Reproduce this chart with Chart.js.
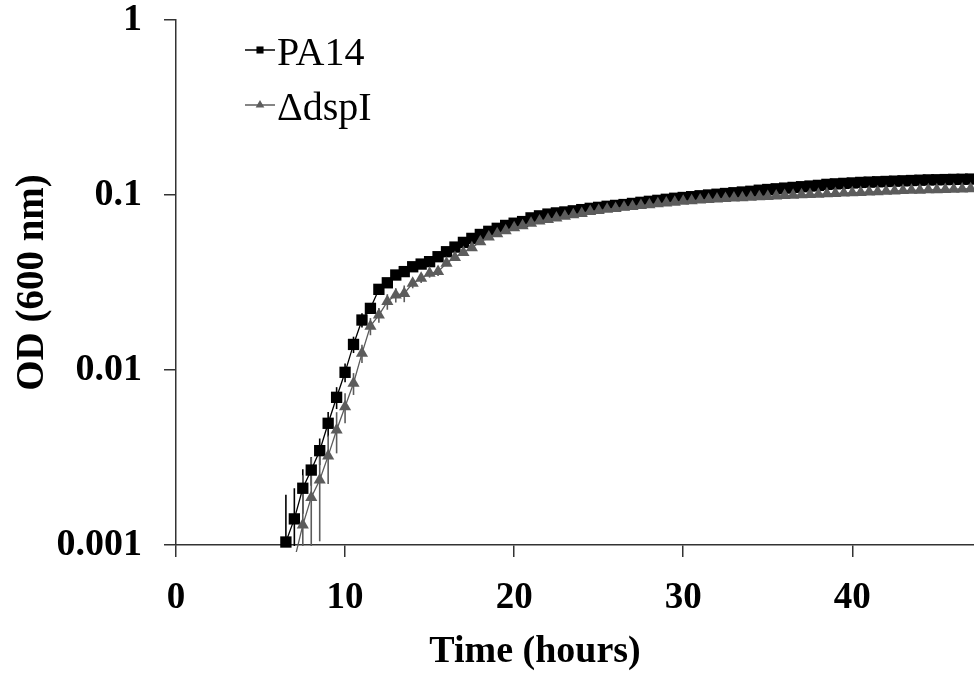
<!DOCTYPE html>
<html>
<head>
<meta charset="utf-8">
<script src="https://cdn.jsdelivr.net/npm/chart.js@4.4.1/dist/chart.umd.min.js"></script>
<style>
html, body { margin: 0; padding: 0; background: #fff; }
#wrap { width: 974px; height: 677px; }
</style>
</head>
<body>
<div id="wrap"><canvas id="growth" width="974" height="677"></canvas></div>
<script>
// =========================
//  DATA
// =========================
const timePA14 = [
    6.5, 7, 7.5, 8, 8.5, 9, 9.5, 10, 10.5, 11,
    11.5, 12, 12.5, 13, 13.5, 14, 14.5, 15, 15.5, 16,
    16.5, 17, 17.5, 18, 18.5, 19, 19.5, 20, 20.5, 21,
    21.5, 22, 22.5, 23, 23.5, 24, 24.5, 25, 25.5, 26,
    26.5, 27, 27.5, 28, 28.5, 29, 29.5, 30, 30.5, 31,
    31.5, 32, 32.5, 33, 33.5, 34, 34.5, 35, 35.5, 36,
    36.5, 37, 37.5, 38, 38.5, 39, 39.5, 40, 40.5, 41,
    41.5, 42, 42.5, 43, 43.5, 44, 44.5, 45, 45.5, 46,
    46.5, 47
];
const odPA14 = [
    0.00104, 0.00141, 0.00211, 0.00268, 0.00346, 0.00496, 0.00698, 0.0097, 0.0140, 0.0193,
    0.0225, 0.0289, 0.0315, 0.0349, 0.0365, 0.0389, 0.0403, 0.0416, 0.0444, 0.0474,
    0.0504, 0.0536, 0.0565, 0.0595, 0.0620, 0.0645, 0.0670, 0.0690, 0.0705, 0.0740,
    0.0760, 0.0778, 0.0790, 0.0800, 0.0812, 0.0825, 0.0839, 0.0850, 0.0862, 0.0872,
    0.0882, 0.0895, 0.0908, 0.0920, 0.0932, 0.0945, 0.0958, 0.0968, 0.0978, 0.0990,
    0.1000, 0.1010, 0.1020, 0.1030, 0.1040, 0.1050, 0.1065, 0.1075, 0.1085, 0.1095,
    0.1105, 0.1115, 0.1125, 0.1135, 0.1150, 0.1158, 0.1165, 0.1172, 0.1180, 0.1185,
    0.1190, 0.1195, 0.1200, 0.1205, 0.1210, 0.1215, 0.1220, 0.1222, 0.1225, 0.1228,
    0.1230, 0.1233
];
// SD bars, only the early points have visible ones (rest = 0)
const errPA14 = [0.0009, 0.0007, 0.0006, 0.0005, 0.0006, 0.0008, 0.0010, 0.0012, 0.0015, 0.0018, 0.0015, 0.0015];

const timeDspI = [
    7, 7.5, 8, 8.5, 9, 9.5, 10, 10.5, 11, 11.5,
    12, 12.5, 13, 13.5, 14, 14.5, 15, 15.5, 16, 16.5,
    17, 17.5, 18, 18.5, 19, 19.5, 20, 20.5, 21, 21.5,
    22, 22.5, 23, 23.5, 24, 24.5, 25, 25.5, 26, 26.5,
    27, 27.5, 28, 28.5, 29, 29.5, 30, 30.5, 31, 31.5,
    32, 32.5, 33, 33.5, 34, 34.5, 35, 35.5, 36, 36.5,
    37, 37.5, 38, 38.5, 39, 39.5, 40, 40.5, 41, 41.5,
    42, 42.5, 43, 43.5, 44, 44.5, 45, 45.5, 46, 46.5,
    47
];
const odDspI = [
    0.00082, 0.00130, 0.00187, 0.00235, 0.00323, 0.00454, 0.00617, 0.0084, 0.01245, 0.0178,
    0.0206, 0.0246, 0.0268, 0.0274, 0.0313, 0.0334, 0.0357, 0.0365, 0.0407, 0.0440,
    0.0470, 0.0500, 0.0540, 0.0575, 0.0600, 0.0625, 0.0650, 0.0668, 0.0690, 0.0710,
    0.0725, 0.0740, 0.0755, 0.0770, 0.0785, 0.0805, 0.0815, 0.0828, 0.0838, 0.0850,
    0.0860, 0.0870, 0.0880, 0.0890, 0.0900, 0.0910, 0.0920, 0.0928, 0.0935, 0.0942,
    0.0948, 0.0955, 0.0960, 0.0966, 0.0972, 0.0978, 0.0982, 0.0988, 0.0993, 0.0998,
    0.1002, 0.1006, 0.1010, 0.1015, 0.1020, 0.1025, 0.1030, 0.1035, 0.1040, 0.1045,
    0.1050, 0.1055, 0.1060, 0.1063, 0.1066, 0.1070, 0.1073, 0.1076, 0.1080, 0.1083,
    0.1086
];
const errDspI = [0, 0.0012, 0.0013, 0.0013, 0.0010, 0.0012, 0.0012, 0.0012, 0.0015, 0.0020,
    0.0020, 0.0025, 0.0025, 0.0030, 0.0020, 0.0020, 0.0020, 0.0020];

const xTicks = [0, 10, 20, 30, 40];
const yTicks = [0.001, 0.01, 0.1, 1];

// =========================
//  STYLE
// =========================
const SERIF = "'Liberation Serif', 'Times New Roman', serif";
const AXIS = "#333333";
const GREY = "#5c5c5c";

function toPoints(times, values) {
    return times.map((t, i) => ({ x: t, y: values[i] }));
}

// no extra label overflow padding, the plot box is fixed by layout + afterFit
function noOverflow(scale) {
    scale.paddingTop = 0;
    scale.paddingBottom = 0;
    scale.paddingLeft = 0;
    scale.paddingRight = 0;
}

// error bars, drawn under the markers through the scales
const errorBars = {
    id: "errorBars",
    beforeDatasetsDraw(chart) {
        const { ctx, chartArea, scales } = chart;
        ctx.save();
        ctx.beginPath();
        ctx.rect(chartArea.left, chartArea.top, chartArea.right - chartArea.left, chartArea.bottom - chartArea.top + 1);
        ctx.clip();
        chart.data.datasets.forEach(ds => {
            ctx.strokeStyle = ds.borderColor;
            ctx.lineWidth = 1.6;
            ds.errors.forEach((e, i) => {
                if (!e) return;
                const p = ds.data[i];
                const x = scales.x.getPixelForValue(p.x);
                const lo = p.y - e > 0 ? scales.y.getPixelForValue(p.y - e) : chartArea.bottom + 5;
                const hi = scales.y.getPixelForValue(p.y + e);
                ctx.beginPath();
                ctx.moveTo(x, hi);
                ctx.lineTo(x, lo);
                ctx.stroke();
            });
        });
        ctx.restore();
    }
};

// legend in the top-left corner of the plot + x axis title
const extras = {
    id: "extras",
    afterDraw(chart) {
        const ctx = chart.ctx;
        ctx.save();
        const rows = [50, 105];
        chart.data.datasets.forEach((ds, i) => {
            const y = rows[i];
            ctx.strokeStyle = ds.borderColor;
            ctx.lineWidth = 1.5;
            ctx.beginPath();
            ctx.moveTo(245, y);
            ctx.lineTo(275, y);
            ctx.stroke();
            ctx.fillStyle = ds.pointBackgroundColor;
            Chart.helpers.drawPoint(ctx, { pointStyle: ds.pointStyle, radius: 5, borderWidth: 0 }, 260, y);
            ctx.fillStyle = "#000";
            ctx.font = "40px " + SERIF;
            ctx.textAlign = "left";
            ctx.textBaseline = "alphabetic";
            ctx.fillText(ds.label, 277, y + 15);
        });
        ctx.font = "bold 38px " + SERIF;
        ctx.textAlign = "center";
        ctx.fillStyle = "#000";
        ctx.fillText("Time (hours)", 535, 662);
        ctx.restore();
    }
};

new Chart(document.getElementById("growth"), {
    type: "line",
    data: {
        datasets: [
            {
                label: "PA14",
                data: toPoints(timePA14, odPA14),
                errors: errPA14,
                borderColor: "#000000",
                backgroundColor: "#000000",
                pointBackgroundColor: "#000000",
                pointBorderColor: "#000000",
                pointStyle: "rect",
                pointRadius: 8,
                pointBorderWidth: 0,
                borderWidth: 1.3,
                tension: 0,
                order: 2,
                clip: { left: 10, top: 10, right: 10, bottom: 7 }
            },
            {
                label: "\u0394dspI",
                data: toPoints(timeDspI, odDspI),
                errors: errDspI,
                borderColor: GREY,
                backgroundColor: GREY,
                pointBackgroundColor: GREY,
                pointBorderColor: GREY,
                pointStyle: "triangle",
                pointRadius: 7,
                pointBorderWidth: 0,
                borderWidth: 1.3,
                tension: 0,
                order: 1,
                clip: { left: 10, top: 10, right: 10, bottom: 7 }
            }
        ]
    },
    options: {
        responsive: false,
        animation: false,
        events: [],
        layout: { autoPadding: false, padding: { top: 20, right: 0, bottom: 0, left: 0 } },
        plugins: {
            legend: { display: false },
            tooltip: { enabled: false }
        },
        scales: {
            x: {
                type: "linear",
                min: 0,
                max: 47.2,
                afterBuildTicks: scale => { scale.ticks = xTicks.map(v => ({ value: v })); },
                afterFit: scale => { scale.height = 132; noOverflow(scale); },
                grid: { drawOnChartArea: false, tickLength: 12, color: AXIS, lineWidth: 1.5 },
                border: { color: AXIS, width: 1.5 },
                ticks: {
                    color: "#000",
                    padding: 23,
                    maxRotation: 0,
                    font: { family: SERIF, size: 37, weight: "bold", lineHeight: 1 }
                }
            },
            y: {
                type: "logarithmic",
                min: 0.001,
                max: 1,
                afterBuildTicks: scale => { scale.ticks = yTicks.map(v => ({ value: v })); },
                afterFit: scale => { scale.width = 176; noOverflow(scale); },
                grid: { drawOnChartArea: false, tickLength: 12, color: AXIS, lineWidth: 1.5 },
                border: { color: AXIS, width: 1.5 },
                ticks: {
                    color: "#000",
                    padding: 22,
                    callback: v => String(v),
                    font: { family: SERIF, size: 38, weight: "bold", lineHeight: 1 }
                },
                title: {
                    display: true,
                    text: "OD (600 nm)",
                    color: "#000",
                    padding: { top: 10, bottom: 0 },
                    font: { family: SERIF, size: 39, weight: "bold", lineHeight: 1.2 }
                }
            }
        }
    },
    plugins: [errorBars, extras]
});
</script>
</body>
</html>
